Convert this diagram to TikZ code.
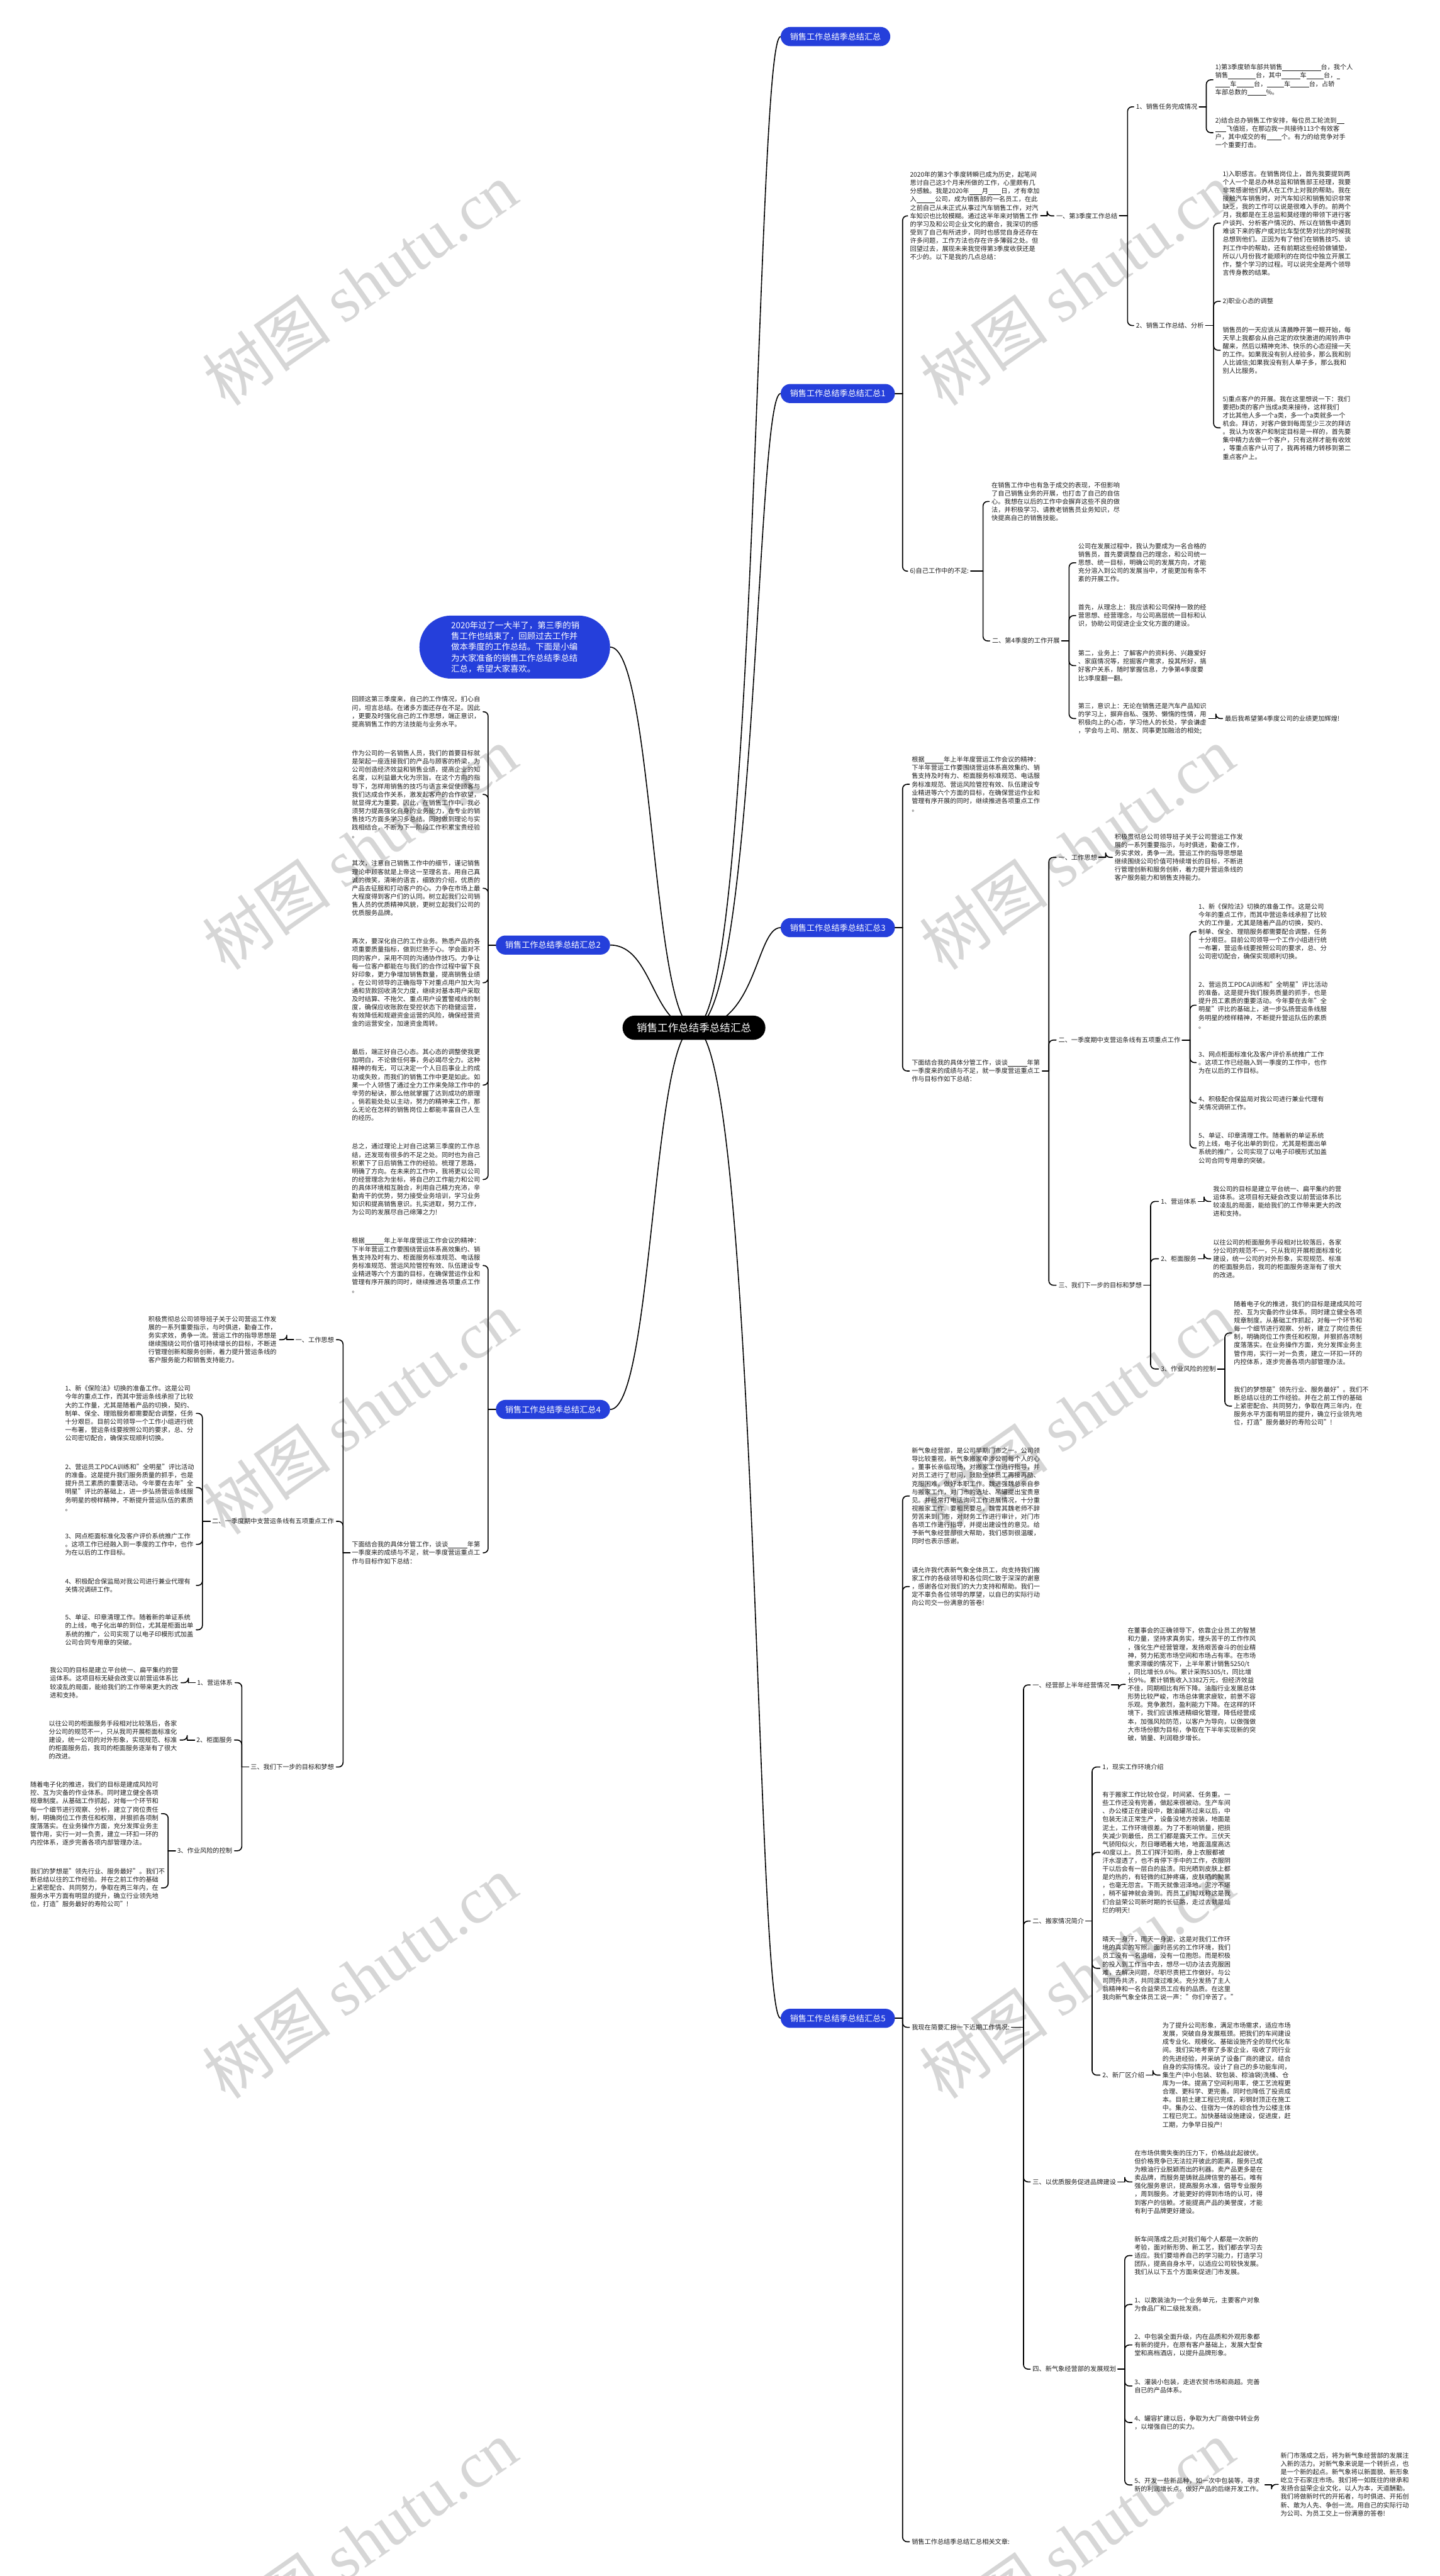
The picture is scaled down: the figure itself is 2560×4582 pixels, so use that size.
\documentclass[tikz,border=0pt]{standalone}
\usepackage{fontspec}
\setmainfont{Noto Sans CJK SC}
\newfontfamily\wmfont{Liberation Serif}
\usetikzlibrary{backgrounds}
\definecolor{mapblue}{RGB}{37,63,219}
\definecolor{inkgray}{RGB}{30,30,30}
\definecolor{wmgray}{RGB}{214,214,214}
\newcommand\gap[1]{\rule[-1.6pt]{#1em}{0.6pt}}
\newcommand\opsIntro{根据\gap{3}年上半年度营运工作会议的精神：\\下半年营运工作要围绕营运体系高效集约、销\\售支持及时有力、柜面服务标准规范、电话服\\务标准规范、营运风险管控有效、队伍建设专\\业精进等六个方面的目标，在确保营运作业和\\管理有序开展的同时，继续推进各项重点工作\\。}
\newcommand\opsBrief{下面结合我的具体分管工作，谈谈\gap{3}年第\\一季度来的成绩与不足，就一季度营运重点工\\作与目标作如下总结：}
\newcommand\opsIdea{积极贯彻总公司领导班子关于公司营运工作发\\展的一系列重要指示，与时俱进，勤奋工作，\\务实求效，勇争一流。营运工作的指导思想是\\继续围绕公司价值可持续增长的目标，不断进\\行管理创新和服务创新，着力提升营运条线的\\客户服务能力和销售支持能力。}
\newcommand\opsA{1、新《保险法》切换的准备工作。这是公司\\今年的重点工作，而其中营运条线承担了比较\\大的工作量，尤其是随着产品的切换，契约、\\制单、保全、理赔服务都需要配合调整，任务\\十分艰巨。目前公司领导一个工作小组进行统\\一布署，营运条线要按照公司的要求，总、分\\公司密切配合，确保实现顺利切换。}
\newcommand\opsB{2、营运员工PDCA训练和"全明星"评比活动\\的准备。这是提升我们服务质量的抓手，也是\\提升员工素质的重要活动。今年要在去年"全\\明星"评比的基础上，进一步弘扬营运条线服\\务明星的榜样精神，不断提升营运队伍的素质\\。}
\newcommand\opsC{3、网点柜面标准化及客户评价系统推广工作\\。这项工作已经融入到一季度的工作中，也作\\为在以后的工作目标。}
\newcommand\opsD{4、积极配合保监局对我公司进行兼业代理有\\关情况调研工作。}
\newcommand\opsE{5、单证、印章清理工作。随着新的单证系统\\的上线，电子化出单的到位，尤其是柜面出单\\系统的推广，公司实现了以电子印模形式加盖\\公司合同专用章的突破。}
\newcommand\opsSys{我公司的目标是建立平台统一、扁平集约的营\\运体系。这项目标无疑会改变以前营运体系比\\较凌乱的局面，能给我们的工作带来更大的改\\进和支持。}
\newcommand\opsDesk{以往公司的柜面服务手段相对比较落后，各家\\分公司的规范不一，只从我司开展柜面标准化\\建设，统一公司的对外形象，实现规范、标准\\的柜面服务后，我司的柜面服务逐渐有了很大\\的改进。}
\newcommand\opsRiskA{随着电子化的推进，我们的目标是建成风险可\\控、互为灾备的作业体系。同时建立健全各项\\规章制度。从基础工作抓起，对每一个环节和\\每一个细节进行观察、分析，建立了岗位责任\\制，明确岗位工作责任和权限，并狠抓各项制\\度落落实。在业务操作方面，充分发挥业务主\\管作用，实行一对一负责，建立一环扣一环的\\内控体系，逐步完善各项内部管理办法。}
\newcommand\opsRiskB{我们的梦想是"领先行业、服务最好"。我们不\\断总结以往的工作经验。并在之前工作的基础\\上紧密配合、共同努力，争取在两三年内，在\\服务水平方面有明显的提升，确立行业领先地\\位，打造"服务最好的寿险公司"!}
\newcommand\fanr[4][3pt]{%
  \coordinate (#2-x) at (#3,0);
  \draw[link,shorten <=#1] (#2.east) -- (#2.east -| #2-x) coordinate (#2-s);
  \foreach \c in {#4} \draw[link,shorten >=4pt] (#2-s) |- (\c.west);}
\newcommand\fanl[4][3pt]{%
  \coordinate (#2-x) at (#3,0);
  \draw[link,shorten <=#1] (#2.west) -- (#2.west -| #2-x) coordinate (#2-s);
  \foreach \c in {#4} \draw[link,shorten >=4pt] (#2-s) |- (\c.east);}
\begin{document}
\begin{tikzpicture}[x=1pt,y=-1pt,line join=round,line cap=round,
  link/.style={line width=1.8pt,rounded corners=8pt},
  curve/.style={line width=1.8pt},
  rootbox/.style={fill=black,text=white,rounded corners=21.5pt,minimum width=254pt,minimum height=43pt,inner sep=0pt,font=\fontsize{18.5}{22}\selectfont},
  topic/.style={fill=mapblue,text=white,rounded corners=17pt,minimum height=34pt,inner xsep=16.6pt,inner ysep=0pt,font=\fontsize{14.7}{17}\selectfont},
  memo/.style={fill=mapblue,text=white,rounded corners=56pt,minimum width=339pt,minimum height=112pt,text width=226pt,align=left,inner sep=0pt,font=\fontsize{15}{19.3}\selectfont},
  para/.style={text=inkgray,text width=229pt,align=left,inner sep=0pt,font=\fontsize{11.4}{14.67}\selectfont},
  tag/.style={text=inkgray,inner sep=0pt,font=\fontsize{11.4}{14.67}\selectfont},
  wmark/.style={text=wmgray,rotate=35,inner sep=0pt,font=\fontsize{115}{120}\selectfont}]
\useasboundingbox (0,0) rectangle (2560,4582);
\foreach \wy in {505,1509,2513,3517,4521}
  \foreach \wx in {640,1915}
    \node[wmark] (wm-\wx-\wy) at (\wx,\wy) {树图 {\wmfont shutu.cn}};

\node[rootbox] (root) at (1234,1828) {销售工作总结季总结汇总};
\node[topic,anchor=west] (b0) at (1388,65) {销售工作总结季总结汇总};
\node[topic,anchor=west] (b1) at (1388,700) {销售工作总结季总结汇总1};
\node[topic,anchor=west] (b3) at (1388,1650) {销售工作总结季总结汇总3};
\node[topic,anchor=west] (b5) at (1388,3590) {销售工作总结季总结汇总5};
\node[topic,anchor=east] (b2) at (1085,1681) {销售工作总结季总结汇总2};
\node[topic,anchor=east] (b4) at (1085,2507) {销售工作总结季总结汇总4};
\node[memo,anchor=east] (note) at (1085,1151) {2020年过了一大半了，第三季的销\\售工作也结束了，回顾过去工作并\\做本季度的工作总结。下面是小编\\为大家准备的销售工作总结季总结\\汇总，希望大家喜欢。};

\begin{scope}[on background layer]
\fill[white] (0,0) rectangle (2560,4582);
\foreach \b in {b0,b1,b3,b5}
  \draw[curve] (root.center) .. controls +(112,0) and +(-44,0) .. (\b.west);
\foreach \b in {note,b2,b4}
  \draw[curve] (root.center) .. controls +(-74,0) and +(76,0) .. (\b.east);
\end{scope}

% 汇总1
\node[para,anchor=west] (b1t) at (1618,384) {2020年的第3个季度转瞬已成为历史，起笔间\\思讨自己这3个月来所做的工作，心里颇有几\\分感触。我是2020年\gap{2}月\gap{2}日，才有幸加\\入\gap{2.9}公司，成为销售部的一名员工，在此\\之前自己从未正式从事过汽车销售工作，对汽\\车知识也比较模糊。通过这半年来对销售工作\\的学习及和公司企业文化的磨合，我深切的感\\受到了自己有所进步，同时也感觉自身还存在\\许多问题，工作方法也存在许多薄弱之处。但\\回望过去，展现未来我觉得第3季度收获还是\\不少的。以下是我的几点总结：};
\node[tag,anchor=west] (b1a) at (1878,384) {一、第3季度工作总结};
\node[tag,anchor=west] (b1a1) at (2020,190) {1、销售任务完成情况};
\node[tag,anchor=west] (b1a2) at (2020,579) {2、销售工作总结、分析};
\node[para,anchor=west] (b1a1x) at (2161,142) {1)第3季度轿车部共销售\gap{6}台，我个人\\销售\gap{4.3}台，其中\gap{2.9}车\gap{2.7}台，\gap{0.5}\\\gap{2.3}车\gap{2.7}台，\gap{2.7}车\gap{2.9}台，占轿\\车部总数的\gap{2.9}\%。};
\node[para,anchor=west] (b1a1y) at (2161,236) {2)结合总办销售工作安排，每位员工轮流到\gap{1.2}\\\gap{1.7}飞值班，在那边我一共接待113个有效客\\户，其中成交的有\gap{2.3}个。有力的给竞争对手\\一个重要打击。};
\node[para,anchor=west] (b1a2x) at (2174,397) {1)入职感言。在销售岗位上，首先我要提到两\\个人一个是总办林总监和销售部王经理，我要\\非常感谢他们俩人在工作上对我的帮助。我在\\接触汽车销售时，对汽车知识和销售知识非常\\缺乏，我的工作可以说是很难入手的。前两个\\月，我都是在王总监和莫经理的带领下进行客\\户谈判、分析客户情况的、所以在销售中遇到\\难谈下来的客户或对比车型优势对比的时候我\\总想到他们。正因为有了他们在销售技巧、谈\\判工作中的帮助，还有前期这些经验做铺垫，\\所以八月份我才能顺利的在岗位中独立开展工\\作，整个学习的过程。可以说完全是两个领导\\言传身教的结果。};
\node[tag,anchor=west] (b1a2y) at (2174,536) {2)职业心态的调整};
\node[para,anchor=west] (b1a2z) at (2174,623) {销售员的一天应该从清晨睁开第一眼开始，每\\天早上我都会从自己定的欢快激进的闹铃声中\\醒来，然后以精神充沛、快乐的心态迎接一天\\的工作。如果我没有别人经验多，那么我和别\\人比诚信;如果我没有别人单子多，那么我和\\别人比服务。};
\node[para,anchor=west] (b1a2w) at (2174,761) {5)重点客户的开展。我在这里想说一下：我们\\要把b类的客户当成a类来接待，这样我们\\才比其他人多一个a类，多一个a类就多一个\\机会。拜访，对客户做到每周至少三次的拜访\\。我认为攻客户和制定目标是一样的，首先要\\集中精力去做一个客户，只有这样才能有收效\\，等重点客户认可了，我再将精力转移到第二\\重点客户上。};
\node[tag,anchor=west] (b1b) at (1618,1016) {6)自己工作中的不足:};
\node[para,anchor=west] (b1b1) at (1763,892) {在销售工作中也有急于成交的表现，不但影响\\了自己销售业务的开展，也打击了自己的自信\\心。我想在以后的工作中会摒弃这些不良的做\\法，并积极学习、请教老销售员业务知识，尽\\快提高自己的销售技能。};
\node[tag,anchor=west] (b1b2) at (1764,1140) {二、第4季度的工作开展};
\node[para,anchor=west] (b1e1) at (1917,1001) {公司在发展过程中，我认为要成为一名合格的\\销售员，首先要调整自己的理念，和公司统一\\思想、统一目标，明确公司的发展方向，才能\\充分溶入到公司的发展当中，才能更加有条不\\紊的开展工作。};
\node[para,anchor=west] (b1e2) at (1917,1095) {首先，从理念上：我应该和公司保持一致的经\\营思想、经营理念，与公司高层统一目标和认\\识，协助公司促进企业文化方面的建设。};
\node[para,anchor=west] (b1e3) at (1917,1184) {第二，业务上：了解客户的资料务、兴趣爱好\\、家庭情况等，挖掘客户需求，投其所好，搞\\好客户关系，随时掌握信息，力争第4季度要\\比3季度翻一翻。};
\node[para,anchor=west] (b1e4) at (1917,1278) {第三，意识上：无论在销售还是汽车产品知识\\的学习上，摒弃自私、强势、懒惰的性情，用\\积极向上的心态，学习他人的长处，学会谦虚\\，学会与上司、朋友、同事更加融洽的相处;};
\node[tag,anchor=west] (b1end) at (2178,1278) {最后我希望第4季度公司的业绩更加辉煌!};
\fanr[0pt]{b1}{1605}{b1t,b1b}
\fanr{b1t}{1862}{b1a}
\fanr{b1a}{2005}{b1a1,b1a2}
\fanr{b1a1}{2145}{b1a1x,b1a1y}
\fanr{b1a2}{2158}{b1a2x,b1a2y,b1a2z,b1a2w}
\fanr{b1b}{1748}{b1b1,b1b2}
\fanr{b1b2}{1901}{b1e1,b1e2,b1e3,b1e4}
\fanr{b1e4}{2162}{b1end}

% 汇总3
\node[para,anchor=west] (b3t) at (1621,1395) {\opsIntro};
\node[para,anchor=west] (b3u) at (1621,1905) {\opsBrief};
\node[tag,anchor=west] (b3g1) at (1882,1525) {一、工作思想};
\node[para,anchor=west] (b3g1x) at (1982,1525) {\opsIdea};
\node[tag,anchor=west] (b3g2) at (1882,1850) {二、一季度期中支营运条线有五项重点工作};
\node[para,anchor=west] (b3h1) at (2131,1657) {\opsA};
\node[para,anchor=west] (b3h2) at (2131,1788) {\opsB};
\node[para,anchor=west] (b3h3) at (2131,1890) {\opsC};
\node[para,anchor=west] (b3h4) at (2131,1962) {\opsD};
\node[para,anchor=west] (b3h5) at (2131,2042) {\opsE};
\node[tag,anchor=west] (b3g3) at (1882,2286) {三、我们下一步的目标和梦想};
\node[tag,anchor=west] (b3i1) at (2064,2137) {1、营运体系};
\node[para,anchor=west] (b3i1x) at (2157,2137) {\opsSys};
\node[tag,anchor=west] (b3i2) at (2064,2239) {2、柜面服务};
\node[para,anchor=west] (b3i2x) at (2157,2239) {\opsDesk};
\node[tag,anchor=west] (b3i3) at (2064,2435) {3、作业风险的控制};
\node[para,anchor=west] (b3j1) at (2194,2371) {\opsRiskA};
\node[para,anchor=west] (b3j2) at (2194,2501) {\opsRiskB};
\fanr[0pt]{b3}{1605}{b3t,b3u}
\fanr{b3u}{1865}{b3g1,b3g2,b3g3}
\fanr{b3g1}{1966}{b3g1x}
\fanr{b3g2}{2116}{b3h1,b3h2,b3h3,b3h4,b3h5}
\fanr{b3g3}{2046}{b3i1,b3i2,b3i3}
\fanr{b3i1}{2141}{b3i1x}
\fanr{b3i2}{2141}{b3i2x}
\fanr{b3i3}{2178}{b3j1,b3j2}

% 汇总5
\node[para,anchor=west] (b5t1) at (1621,2661) {新气象经营部，是公司早期门市之一。公司领\\导比较重视，新气象搬家牵涉公司每个人的心\\。董事长亲临现场，对搬家工作进行指导，并\\对员工进行了慰问，鼓励全体员工再接再励、\\克服困难，做好本职工作。魏进强魏总亲自参\\与搬家工作，对门市的选址、吊罐提出宝贵意\\见。并经常打电话询问工作进展情况，十分重\\视搬家工作。要相民要总，魏雪其魏老师不辞\\劳苦来到门市，对财务工作进行审计，对门市\\各项工作进行指导，并提出建设性的意见。给\\予新气象经营部很大帮助，我们感到很温暖，\\同时也表示感谢。};
\node[para,anchor=west] (b5t2) at (1621,2822) {请允许我代表新气象全体员工，向支持我们搬\\家工作的各级领导和各位同仁致于深深的谢意\\，感谢各位对我们的大力支持和帮助。我们一\\定不辜负各位领导的厚望，以自已的实际行动\\向公司交一份满意的答卷!};
\node[tag,anchor=west] (b5k) at (1621,3606) {我现在简要汇报一下近期工作情况:};
\node[tag,anchor=west] (b5end) at (1621,4521) {销售工作总结季总结汇总相关文章:};
\node[tag,anchor=west] (b5l1) at (1836,2997) {一、经营部上半年经营情况};
\node[para,anchor=west] (b5l1x) at (2005,2996) {在董事会的正确领导下，依靠企业员工的智慧\\和力量，坚持求真务实，埋头苦干的工作作风\\，强化生产经营管理，发扬艰苦奋斗的创业精\\神，努力拓宽市场空间和市场占有率。在市场\\需求滞缓的情况下，上半年累计销售5250/t\\，同比增长9.6\%。累计采购5305/t，同比增\\长9\%。累计销售收入3382万元，但经济效益\\不佳，同期相比有所下降。油脂行业发展总体\\形势比较严峻，市场总体需求疲软，前景不容\\乐观。竞争激烈，盈利能力下降。在这样的环\\境下，我们应该推进精细化管理，降低经营成\\本，加强风险防范，以客户为导向，以做强做\\大市场份额为目标，争取在下半年实现新的突\\破，销量、利润稳步增长。};
\node[tag,anchor=west] (b5l2) at (1836,3417) {二、搬家情况简介};
\node[tag,anchor=west] (b5m1) at (1960,3143) {1，现实工作环境介绍};
\node[para,anchor=west] (b5m2) at (1960,3295) {有于搬家工作比较仓促，时间紧、任务重。一\\些工作还没有完善，做起来很被动。生产车间\\、办公楼正在建设中，散油罐吊过来以后，中\\包装无法正常生产，设备没地方按装，地面是\\泥土，工作环境很差。为了不影响销量，把损\\失减少到最低，员工们都是露天工作。三伏天\\气骄阳似火，烈日曝晒着大地，地面温度高达\\40度以上。员工们挥汗如雨，身上衣服都被\\汗水湿透了，也不肯停下手中的工作，衣服阴\\干以后会有一层白的盐渍。阳光晒到皮肤上都\\是灼热的，有轻微的红肿疼痛，皮肤晒的黝黑\\，也毫无怨言。下雨天就像沼泽地，泥泞不堪\\，稍不留神就会滑到。而员工们却戏称这是我\\们合益荣公司新时期的长征路，走过去就是灿\\烂的明天!};
\node[para,anchor=west] (b5m3) at (1960,3501) {晴天一身汗，雨天一身泥，这是对我们工作环\\境的真实的写照。面对恶劣的工作环境，我们\\员工没有一名退缩，没有一位抱怨。而是积极\\的投入到工作当中去，想尽一切办法去克服困\\难，去解决问题，尽职尽责把工作做好。与公\\司同舟共济，共同渡过难关。充分发扬了主人\\翁精神和一名合益荣员工应有的品质。在这里\\我向新气象全体员工说一声："你们辛苦了。"};
\node[tag,anchor=west] (b5m4) at (1960,3691) {2、新厂区介绍};
\node[para,anchor=west] (b5m4x) at (2067,3691) {为了提升公司形象，满足市场需求，适应市场\\发展，突破自身发展瓶颈。把我们的车间建设\\成专业化、规模化、基础设施齐全的现代化车\\间。我们实地考察了多家企业，吸收了同行业\\的先进经验，并采纳了设备厂商的建议，结合\\自身的实际情况。设计了自己的多功能车间，\\集生产(中小包装、软包装、棕油袋)洗桶、仓\\库为一体。提高了空间利用率，使工艺流程更\\合理、更科学、更完善。同时也降低了投资成\\本。目前土建工程已完成，彩钢封顶正在施工\\中。集办公、住宿为一体的综合性为公楼主体\\工程已完工。加快基础设施建设，促进度，赶\\工期，力争早日投产!};
\node[tag,anchor=west] (b5l3) at (1836,3881) {三、以优质服务促进品牌建设};
\node[para,anchor=west] (b5l3x) at (2017,3881) {在市场供需失衡的压力下，价格战此起彼伏。\\但价格竞争已无法拉开彼此的距离，服务已成\\为粮油行业脱颖而出的利器。卖产品更多是在\\卖品牌，而服务是铸就品牌信誉的基石。唯有\\强化服务意识，提高服务水准，倡导专业服务\\，周到服务。才能更好的得到市场的认可，得\\到客户的信赖。才能提高产品的美誉度，才能\\有利于品牌更好建设。};
\node[tag,anchor=west] (b5l4) at (1836,4214) {四、新气象经营部的发展规划};
\node[para,anchor=west] (b5n1) at (2017,4012) {新车间落成之后;对我们每个人都是一次新的\\考验，面对新形势、新工艺，我们都去学习去\\适应。我们要培养自己的学习能力，打造学习\\团队，提高自身水平，以适应公司较快发展。\\我们从以下五个方面来促进门市发展。};
\node[para,anchor=west] (b5n2) at (2017,4099) {1、以散装油为一个业务单元，主要客户对象\\为食品厂和二级批发商。};
\node[para,anchor=west] (b5n3) at (2017,4171) {2、中包装全面升级，内在品质和外观形象都\\有新的提升，在原有客户基础上，发展大型食\\堂和高档酒店，以提升品牌形象。};
\node[para,anchor=west] (b5n4) at (2017,4244) {3、灌装小包装，走进农贸市场和商超。完善\\自已的产品体系。};
\node[para,anchor=west] (b5n5) at (2017,4309) {4、罐容扩建以后，争取为大厂商做中转业务\\，以增强自已的实力。};
\node[para,anchor=west] (b5n6) at (2017,4420) {5、开发一些新品种，如一次中包装等，寻求\\新的利润增长点。做好产品的后继开发工作。};
\node[para,anchor=west] (b5n6x) at (2277,4419) {新门市落成之后，将为新气象经营部的发展注\\入新的活力。对新气象来说是一个转折点，也\\是一个新的起点。新气象将以新面貌、新形象\\屹立于石家庄市场。我们将一如既往的继承和\\发扬合益荣企业文化，以人为本，天道酬勤。\\我们将做新时代的开拓者，与时俱进、开拓创\\新、敢为人先、争创一流。用自己的实际行动\\为公司、为员工交上一份满意的答卷!};
\fanr[0pt]{b5}{1605}{b5t1,b5t2,b5k,b5end}
\fanr{b5k}{1820}{b5l1,b5l2,b5l3,b5l4}
\fanr{b5l1}{1989}{b5l1x}
\fanr{b5l2}{1942}{b5m1,b5m2,b5m3,b5m4}
\fanr{b5m4}{2050}{b5m4x}
\fanr{b5l3}{2000}{b5l3x}
\fanr{b5l4}{2000}{b5n1,b5n2,b5n3,b5n4,b5n5,b5n6}
\fanr{b5n6}{2261}{b5n6x}

% 汇总2
\node[para,anchor=east] (b2p1) at (855,1266) {回顾这第三季度来，自己的工作情况，扪心自\\问，坦言总结。在诸多方面还存在不足。因此\\，更要及时强化自己的工作思想，端正意识，\\提高销售工作的方法技能与业务水平。};
\node[para,anchor=east] (b2p2) at (855,1413) {作为公司的一名销售人员，我们的首要目标就\\是架起一座连接我们的产品与顾客的桥梁，为\\公司创造经济效益和销售业绩，提高企业的知\\名度，以利益最大化为宗旨。在这个方向的指\\导下，怎样用销售的技巧与语言来促使顾客与\\我们达成合作关系，激发起客户的合作欲望，\\就显得尤为重要。因此，在销售工作中，我必\\须努力提高强化自身的业务能力，在专业的销\\售技巧方面多学习多总结。同时做到理论与实\\践相结合，不断为下一阶段工作积累宝贵经验\\。};
\node[para,anchor=east] (b2p3) at (855,1580) {其次，注意自己销售工作中的细节，谨记销售\\理论中顾客就是上帝这一至理名言。用自己真\\诚的微笑，清晰的语言，细致的介绍，优质的\\产品去征服和打动客户的心。力争在市场上最\\大程度得到客户们的认同。树立起我们公司销\\售人员的优质精神风貌，更树立起我们公司的\\优质服务品牌。};
\node[para,anchor=east] (b2p4) at (855,1748) {再次，要深化自己的工作业务。熟悉产品的各\\项重要质量指标，做到烂熟于心。学会面对不\\同的客户，采用不同的沟通协作技巧。力争让\\每一位客户都能在与我们的合作过程中留下良\\好印象，更力争增加销售数量，提高销售业绩\\。在公司领导的正确指导下对重点用户加大沟\\通和货款回收清欠力度，继续对基本用户采取\\及时结算、不拖欠、重点用户设置警戒线的制\\度，确保应收账款在受控状态下的稳健运营，\\有效降低和规避资金运营的风险，确保经营资\\金的运营安全，加速资金周转。};
\node[para,anchor=east] (b2p5) at (855,1930) {最后，端正好自己心态。其心态的调整使我更\\加明白，不论做任何事，务必竭尽全力。这种\\精神的有无，可以决定一个人日后事业上的成\\功或失败，而我们的销售工作中更是如此。如\\果一个人领悟了通过全力工作来免除工作中的\\辛劳的秘诀，那么他就掌握了达到成功的原理\\。倘若能处处以主动，努力的精神来工作，那\\么无论在怎样的销售岗位上都能丰富自己人生\\的经历。};
\node[para,anchor=east] (b2p6) at (855,2098) {总之，通过理论上对自己这第三季度的工作总\\结，还发现有很多的不足之处。同时也为自己\\积累下了日后销售工作的经验。梳理了思路，\\明确了方向。在未来的工作中，我将更以公司\\的经营理念为坐标，将自己的工作能力和公司\\的具体环境相互融合，利用自己精力充沛，辛\\勤肯干的优势，努力接受业务培训，学习业务\\知识和提高销售意识。扎实进取，努力工作，\\为公司的发展尽自己绵薄之力!};
\fanl[0pt]{b2}{868}{b2p1,b2p2,b2p3,b2p4,b2p5,b2p6}

% 汇总4
\node[para,anchor=east] (b4t) at (855,2251) {\opsIntro};
\node[para,anchor=east] (b4u) at (855,2762) {\opsBrief};
\node[tag,anchor=east] (b4g1) at (594,2383) {一、工作思想};
\node[para,anchor=east] (b4g1x) at (493,2383) {\opsIdea};
\node[tag,anchor=east] (b4g2) at (594,2706) {二、一季度期中支营运条线有五项重点工作};
\node[para,anchor=east] (b4h1) at (345,2514) {\opsA};
\node[para,anchor=east] (b4h2) at (345,2646) {\opsB};
\node[para,anchor=east] (b4h3) at (345,2747) {\opsC};
\node[para,anchor=east] (b4h4) at (345,2820) {\opsD};
\node[para,anchor=east] (b4h5) at (345,2899) {\opsE};
\node[tag,anchor=east] (b4g3) at (594,3143) {三、我们下一步的目标和梦想};
\node[tag,anchor=east] (b4i1) at (414,2993) {1、营运体系};
\node[para,anchor=east] (b4i1x) at (318,2993) {\opsSys};
\node[tag,anchor=east] (b4i2) at (413,3095) {2、柜面服务};
\node[para,anchor=east] (b4i2x) at (316,3095) {\opsDesk};
\node[tag,anchor=east] (b4i3) at (413,3292) {3、作业风险的控制};
\node[para,anchor=east] (b4j1) at (283,3226) {\opsRiskA};
\node[para,anchor=east] (b4j2) at (283,3358) {\opsRiskB};
\fanl[0pt]{b4}{868}{b4t,b4u}
\fanl{b4u}{610}{b4g1,b4g2,b4g3}
\fanl{b4g1}{510}{b4g1x}
\fanl{b4g2}{360}{b4h1,b4h2,b4h3,b4h4,b4h5}
\fanl{b4g3}{430}{b4i1,b4i2,b4i3}
\fanl{b4i1}{335}{b4i1x}
\fanl{b4i2}{333}{b4i2x}
\fanl{b4i3}{299}{b4j1,b4j2}
\end{tikzpicture}
\end{document}
